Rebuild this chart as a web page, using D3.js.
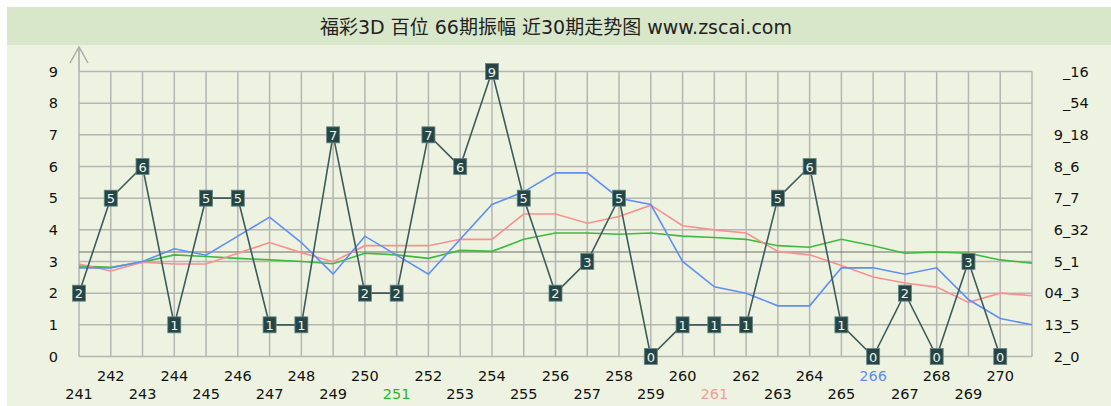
<!DOCTYPE html>
<html><head><meta charset="utf-8">
<script src="https://cdn.jsdelivr.net/npm/d3@7/dist/d3.min.js"></script>
<style>html,body{margin:0;padding:0;background:#fff;}svg{display:block;}</style>
</head><body>
<svg id="c" width="1111" height="406"></svg>
<script>
const titleText = "福彩3D 百位 66期振幅 近30期走势图 www.zscai.com";
const periods = ["241","242","243","244","245","246","247","248","249","250","251","252","253","254","255","256","257","258","259","260","261","262","263","264","265","266","267","268","269","270"];
const periodColors = {"251":"#2db52d","261":"#f59a9a","266":"#5b8ff0"};
const hundreds = [2,5,6,1,5,5,1,1,7,2,2,7,6,9,5,2,3,5,0,1,1,1,5,6,1,0,2,0,3,0];
const blueLine = [2.8,2.8,3.0,3.4,3.2,3.8,4.4,3.6,2.6,3.8,3.2,2.6,3.7,4.8,5.2,5.8,5.8,5.0,4.8,3.0,2.2,2.0,1.6,1.6,2.8,2.8,2.6,2.8,1.8,1.2,1.0];
const redLine = [2.92,2.7,2.98,2.92,2.92,3.26,3.6,3.28,2.99,3.5,3.5,3.5,3.7,3.7,4.5,4.5,4.21,4.42,4.78,4.13,4.0,3.9,3.32,3.21,2.87,2.51,2.32,2.19,1.71,2.0,1.92];
const greenLine = [2.86,2.82,2.98,3.21,3.16,3.1,3.05,3.0,2.93,3.26,3.21,3.1,3.35,3.32,3.7,3.9,3.9,3.86,3.9,3.8,3.76,3.7,3.5,3.45,3.7,3.5,3.26,3.3,3.26,3.05,2.95];
const averageValue = 3.3;
const yTicks = [0,1,2,3,4,5,6,7,8,9];
const rightLabels = ["2_0","13_5","04_3","5_1","6_32","7_7","8_6","9_18","_54","_16"];

const svg = d3.select("#c");
const font = "'DejaVu Sans', Verdana, sans-serif";

// backgrounds
svg.append("rect").attr("x",7).attr("y",7).attr("width",1104).attr("height",399).attr("fill","#edf3e0");
svg.append("rect").attr("x",7).attr("y",7).attr("width",1104).attr("height",38).attr("fill","#d8e6c9");
svg.append("text").attr("x",556).attr("y",27).attr("text-anchor","middle").attr("dominant-baseline","central")
  .attr("font-family","'DejaVu Sans', 'Noto Sans CJK SC', sans-serif").attr("font-size",19).attr("fill","#222").text(titleText);

const x = d3.scaleLinear().domain([0, 30]).range([79, 1032]);
const y = d3.scaleLinear().domain([0, 9]).range([356.5, 71.5]);

const grid = svg.append("g").attr("stroke","#b5b5b2").attr("stroke-width",1.5);
grid.selectAll("line.h").data(yTicks).join("line").attr("class","h")
  .attr("x1",x(0)).attr("x2",x(30)).attr("y1",d=>y(d)).attr("y2",d=>y(d));
grid.selectAll("line.v").data(d3.range(31)).join("line").attr("class","v")
  .attr("y1",y(0)).attr("y2",y(9)).attr("x1",d=>x(d)).attr("x2",d=>x(d));

// y-axis arrow
const ax = svg.append("g").attr("stroke","#aaa").attr("stroke-width",1.5).attr("fill","none");
ax.append("line").attr("x1",x(0)).attr("x2",x(0)).attr("y1",y(9)).attr("y2",47);
ax.append("polyline").attr("points",`${x(0)-9},63 ${x(0)},47 ${x(0)+9},63`);

// average line
svg.append("line").attr("x1",x(0)).attr("x2",x(30)).attr("y1",y(averageValue)).attr("y2",y(averageValue))
  .attr("stroke","#6e6e6a").attr("stroke-width",1.2);

// left labels
svg.append("g").selectAll("text").data(yTicks).join("text")
  .attr("x",58).attr("y",d=>y(d)).attr("text-anchor","end").attr("dominant-baseline","central")
  .attr("font-family",font).attr("font-size",14.5).attr("fill","#111").text(d=>d);

// right labels (underscore aligned)
const rg = svg.append("g").attr("font-family",font).attr("font-size",14.5).attr("fill","#111");
rightLabels.forEach((lab,i)=>{
  const parts = lab.split("_");
  rg.append("text").attr("x",1063).attr("y",y(yTicks[i])).attr("text-anchor","end").attr("dominant-baseline","central").text(parts[0]);
  rg.append("text").attr("x",1063).attr("y",y(yTicks[i])).attr("text-anchor","start").attr("dominant-baseline","central").text("_"+parts[1]);
});

// bottom labels
svg.append("g").selectAll("text").data(periods).join("text")
  .attr("x",(d,i)=>x(i)).attr("y",(d,i)=> i%2===1 ? 381 : 399).attr("text-anchor","middle")
  .attr("font-family",font).attr("font-size",14.5).attr("fill",d=>periodColors[d]||"#111").text(d=>d);

// trend lines
const line = d3.line().x((d,i)=>x(i)).y(d=>y(d));
[[greenLine,"#40b940"],[redLine,"#f99090"],[blueLine,"#5f8ff5"]].forEach(([data,col])=>{
  svg.append("path").attr("d",line(data)).attr("fill","none").attr("stroke",col).attr("stroke-width",1.6);
});

// main series
svg.append("path").attr("d",line(hundreds)).attr("fill","none").attr("stroke","#3d5b5b").attr("stroke-width",1.6);
const mk = svg.append("g").selectAll("g").data(hundreds).join("g")
  .attr("transform",(d,i)=>`translate(${x(i)},${y(d)})`);
mk.append("rect").attr("x",-6.5).attr("y",-8).attr("width",13).attr("height",16)
  .attr("fill","#244646").attr("stroke","#6a8686").attr("stroke-width",0.8);
mk.append("text").attr("text-anchor","middle").attr("dominant-baseline","central").attr("y",0.5)
  .attr("font-family",font).attr("font-size",13).attr("fill","#eef4ee").text(d=>d);
</script>
</body></html>
